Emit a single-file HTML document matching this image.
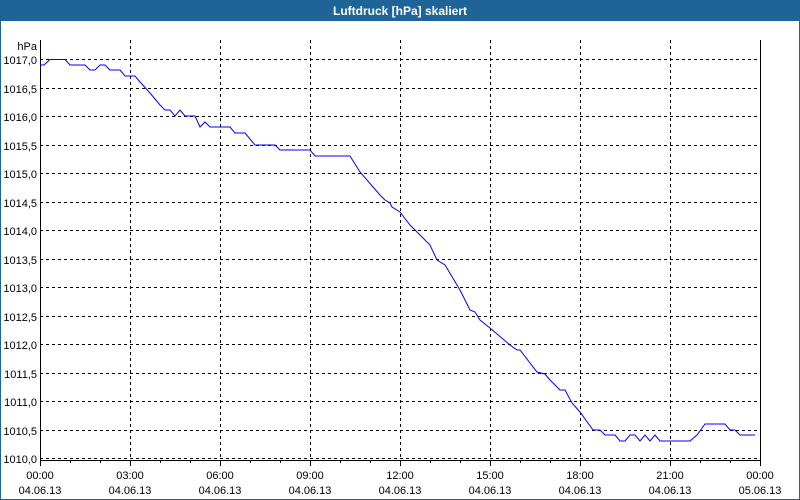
<!DOCTYPE html>
<html><head><style>
body{margin:0;background:#fff;}
svg{display:block;font-family:"Liberation Sans",sans-serif;}
</style></head><body>
<svg width="800" height="500" viewBox="0 0 800 500" xmlns="http://www.w3.org/2000/svg">
<rect x="0" y="0" width="800" height="500" fill="#fff"/>
<rect x="0" y="0" width="800" height="21" fill="#1e6496"/>
<rect x="0.5" y="0.5" width="799" height="499" fill="none" stroke="#1e6496"/>
<text x="400" y="15" fill="#fff" font-size="12" font-weight="bold" text-anchor="middle">Luftdruck [hPa] skaliert</text>
<g stroke="#000" stroke-dasharray="3,3" stroke-width="1">
<line x1="40" x2="760" y1="59.5" y2="59.5"/><line x1="40" x2="760" y1="88.5" y2="88.5"/>
<line x1="40" x2="760" y1="116.5" y2="116.5"/><line x1="40" x2="760" y1="145.5" y2="145.5"/>
<line x1="40" x2="760" y1="173.5" y2="173.5"/><line x1="40" x2="760" y1="202.5" y2="202.5"/>
<line x1="40" x2="760" y1="230.5" y2="230.5"/><line x1="40" x2="760" y1="259.5" y2="259.5"/>
<line x1="40" x2="760" y1="287.5" y2="287.5"/><line x1="40" x2="760" y1="316.5" y2="316.5"/>
<line x1="40" x2="760" y1="344.5" y2="344.5"/><line x1="40" x2="760" y1="373.5" y2="373.5"/>
<line x1="40" x2="760" y1="401.5" y2="401.5"/><line x1="40" x2="760" y1="430.5" y2="430.5"/>
<line x1="40" x2="760" y1="458.5" y2="458.5"/>
<line y1="40" y2="460" x1="130.5" x2="130.5"/><line y1="40" y2="460" x1="220.5" x2="220.5"/>
<line y1="40" y2="460" x1="310.5" x2="310.5"/><line y1="40" y2="460" x1="400.5" x2="400.5"/>
<line y1="40" y2="460" x1="490.5" x2="490.5"/><line y1="40" y2="460" x1="580.5" x2="580.5"/>
<line y1="40" y2="460" x1="670.5" x2="670.5"/>
</g>
<g stroke="#000" stroke-width="1">
<line x1="40.5" y1="40" x2="40.5" y2="461"/>
<line x1="760.5" y1="40" x2="760.5" y2="461"/>
<line x1="40" y1="460.5" x2="761" y2="460.5"/>
<path d="M40.5 460v6M130.5 460v6M220.5 460v6M310.5 460v6M400.5 460v6M490.5 460v6M580.5 460v6M670.5 460v6M760.5 460v6
M70.5 460v3M100.5 460v3M160.5 460v3M190.5 460v3M250.5 460v3M280.5 460v3M340.5 460v3M370.5 460v3M430.5 460v3M460.5 460v3M520.5 460v3M550.5 460v3M610.5 460v3M640.5 460v3M700.5 460v3M730.5 460v3"/>
</g>
<g font-size="11" text-anchor="end" fill="#000">
<text x="37" y="50">hPa</text>
<text x="37" y="64">1017,0</text><text x="37" y="93">1016,5</text><text x="37" y="121">1016,0</text>
<text x="37" y="150">1015,5</text><text x="37" y="178">1015,0</text><text x="37" y="207">1014,5</text>
<text x="37" y="235">1014,0</text><text x="37" y="264">1013,5</text><text x="37" y="292">1013,0</text>
<text x="37" y="321">1012,5</text><text x="37" y="349">1012,0</text><text x="37" y="378">1011,5</text>
<text x="37" y="406">1011,0</text><text x="37" y="435">1010,5</text><text x="37" y="463">1010,0</text>
</g>
<g font-size="11" text-anchor="middle" fill="#000">
<text x="40" y="479">00:00</text><text x="40" y="494">04.06.13</text>
<text x="130" y="479">03:00</text><text x="130" y="494">04.06.13</text>
<text x="220" y="479">06:00</text><text x="220" y="494">04.06.13</text>
<text x="310" y="479">09:00</text><text x="310" y="494">04.06.13</text>
<text x="400" y="479">12:00</text><text x="400" y="494">04.06.13</text>
<text x="490" y="479">15:00</text><text x="490" y="494">04.06.13</text>
<text x="580" y="479">18:00</text><text x="580" y="494">04.06.13</text>
<text x="670" y="479">21:00</text><text x="670" y="494">04.06.13</text>
<text x="760" y="479">00:00</text><text x="760" y="494">05.06.13</text>
</g>
<polyline fill="none" stroke="#0000ff" stroke-width="1" points="40,65 44,65 50,59.5 65,59.5 70,65 85,65 90,70 95,70 100,65 105,65 110,70 120,70 125,76 135,76 140,82 150,93 160,105 165,110 170,110 175,116 180,110 185,116 195,116 200,127 205,122 210,127 230,127 235,133 245,133 255,145 275,145 280,150 310,150 315,156 350,156 360,172 380,195 385,200 390,203 392,207 400,212 410,225 430,245 437,260 445,265 460,290 465,300 470,310 475,312 480,320 490,328 510,345 517,350 520,350 537,372 545,374 550,380 560,390 565,390 572,403 580,412 593,430 600,430 605,435 615,435 620,441 625,441 630,435 635,435 640,441 645,435 650,441 655,435 660,441 690,441 697,435 705,424 725,424 730,430 735,430 740,435 755,435"/>
</svg>
</body></html>
